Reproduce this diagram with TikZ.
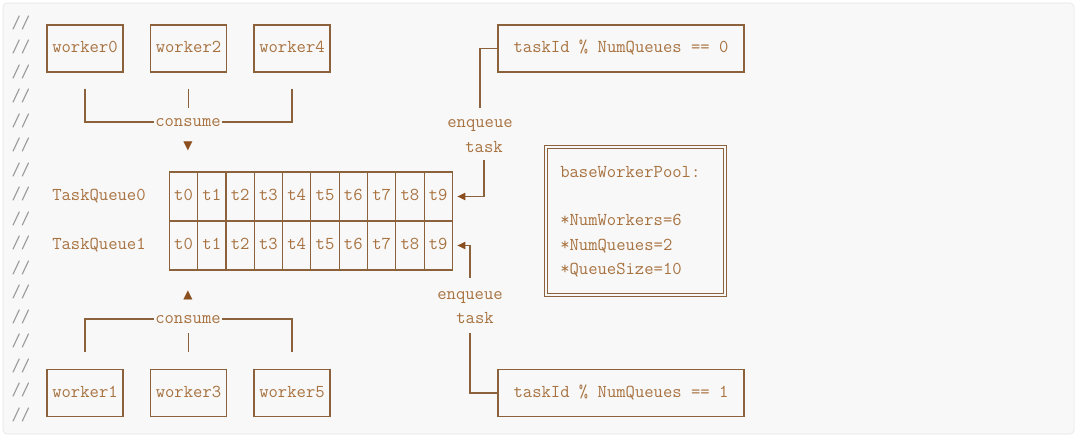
\documentclass[tikz,border=0pt]{standalone}
\usepackage{fontspec}
\newfontfamily\symfont{DejaVu Sans}
\usetikzlibrary{arrows.meta,calc}
\definecolor{codebg}{RGB}{248,248,248}
\definecolor{codeframe}{RGB}{228,228,228}
\definecolor{codetext}{RGB}{168,114,64}
\definecolor{boxline}{RGB}{140,98,60}
\definecolor{tipfill}{RGB}{139,78,30}
\definecolor{slashgray}{RGB}{150,150,150}
\tikzset{
    mono/.style={font=\ttfamily\fontsize{13.6}{15}\selectfont, text=codetext, inner sep=0pt, text height=8.5pt, text depth=2.5pt},
    slash/.style={mono, text=slashgray},
    workerbox/.style={mono, draw=boxline, line width=0.8pt, minimum width=57pt, minimum height=35.25pt},
    cellbox/.style={mono, draw=boxline, line width=0.8pt, minimum width=21.2pt, minimum height=36.75pt},
    condbox/.style={mono, draw=boxline, line width=0.8pt, minimum width=184.5pt, minimum height=35.25pt},
    poolbox/.style={draw=boxline, line width=0.7pt, minimum width=136.5pt, minimum height=113.25pt, inner sep=0pt},
    link/.style={draw=boxline, line width=0.8pt},
    enqarrow/.style={link, -{Triangle[length=6pt,width=5.5pt,color=tipfill]}},
    tri/.style={font=\symfont\fontsize{9}{9}\selectfont, text=tipfill, inner sep=0pt}
}

\begin{document}
\begin{tikzpicture}[x=0.75pt,y=-0.75pt]
    \useasboundingbox (0,0) rectangle (1080,439);
    % Code block
    \fill[white] (0,0) rectangle (1080,439);
    \draw[fill=codebg, draw=codeframe, rounded corners=3pt] (3,3) rectangle (1074,434);
    \foreach \k in {0,...,16}
        \node[slash] (cm\k) at (21,{24+24.5*\k}) {//};
    % Workers on top
    \node[workerbox] (w0) at (85,48.5) {worker0};
    \node[workerbox] (w2) at (188.5,48.5) {worker2};
    \node[workerbox] (w4) at (292,48.5) {worker4};
    \node[mono, inner xsep=1pt] (consTop) at (188,122) {consume};
    \draw[link] ($(w0.south)+(0,16)$) |- (consTop.west);
    \draw[link] ($(w4.south)+(0,16)$) |- (consTop.east);
    \draw[link] ($(w2.south)+(0,16)$) -- ++(0,19);
    \node[tri] (triTop) at (188,146) {▼};
    % Queues
    \node[mono, anchor=west] (qlabA) at (52,196.5) {TaskQueue0};
    \node[mono, anchor=west] (qlabB) at (52,245.5) {TaskQueue1};
    \foreach \i in {0,...,9} {
        \node[cellbox] (qa\i) at ({183.5+28.3*\i},196.5) {t\i};
        \node[cellbox] (qb\i) at ({183.5+28.3*\i},245.5) {t\i};
    }
    % Workers below
    \node[tri] (triBot) at (188,295) {▲};
    \node[mono, inner xsep=1pt] (consBot) at (188,319) {consume};
    \node[workerbox] (w1) at (85,393) {worker1};
    \node[workerbox] (w3) at (188.5,393) {worker3};
    \node[workerbox] (w5) at (292,393) {worker5};
    \draw[link] ($(w1.north)+(0,-17)$) |- (consBot.west);
    \draw[link] ($(w5.north)+(0,-17)$) |- (consBot.east);
    \draw[link] ($(w3.north)+(0,-17)$) -- ++(0,-19);
    % Enqueue, queue 0
    \node[condbox] (cond0) at (621,48.5) {taskId \% NumQueues == 0};
    \node[mono] (enqTop) at (480,123) {enqueue};
    \node[mono] (taskTop) at (484,148) {task};
    \draw[link, shorten <=5.8pt] (enqTop.north) |- (cond0.west);
    \draw[enqarrow, shorten <=3.5pt, shorten >=3.4pt] (taskTop.south) |- (qa9.east);
    % Enqueue, queue 1
    \node[mono] (enqBot) at (470,295) {enqueue};
    \node[mono] (taskBot) at (475,319) {task};
    \node[condbox] (cond1) at (621,393) {taskId \% NumQueues == 1};
    \draw[enqarrow, shorten <=7.3pt, shorten >=3.4pt] (enqBot.north) |- (qb9.east);
    \draw[link, shorten <=5pt] (taskBot.south -| enqBot.north) |- (cond1.west);
    % Pool settings
    \node[poolbox] (pool) at (635,220.5) {};
    \draw[link, line width=0.7pt] ([shift={(2.6pt,-2.6pt)}]pool.north west) rectangle ([shift={(-2.6pt,2.6pt)}]pool.south east);
    \node[mono, anchor=west] (poolName) at (560,173) {baseWorkerPool:};
    \node[mono, anchor=west] (poolWorkers) at (560,221) {*NumWorkers=6};
    \node[mono, anchor=west] (poolQueues) at (560,246) {*NumQueues=2};
    \node[mono, anchor=west] (poolSize) at (560,270) {*QueueSize=10};
\end{tikzpicture}
\end{document}
